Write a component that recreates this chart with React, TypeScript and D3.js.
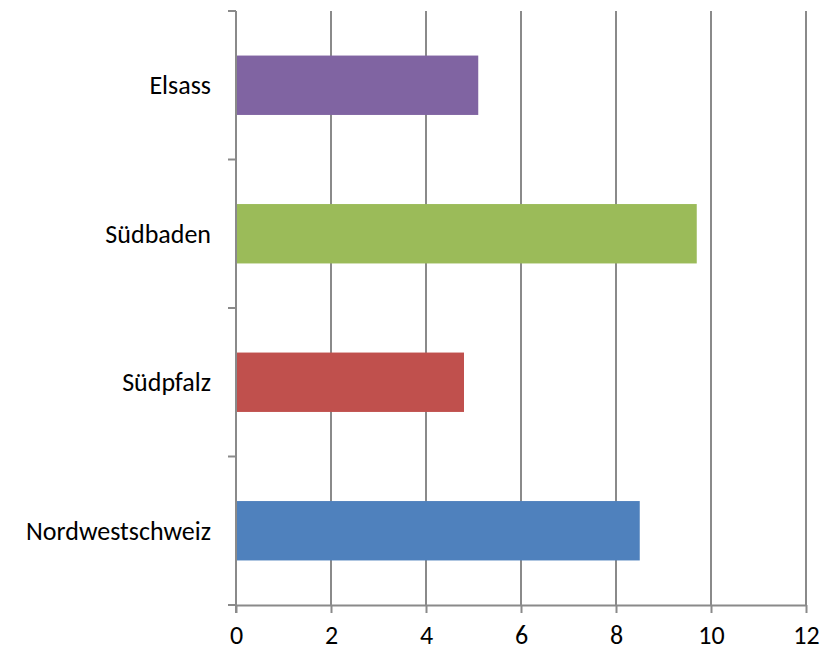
import { useEffect, useRef } from "react";
import * as d3 from "d3";

const regions = ["Elsass", "Südbaden", "Südpfalz", "Nordwestschweiz"];
const values = [5.1, 9.7, 4.8, 8.5];
const colors = ["#8064A2", "#9BBB59", "#C0504D", "#4F81BD"];
const xTicks = [0, 2, 4, 6, 8, 10, 12];

const width = 835;
const height = 651;

export default function App() {
  const svgRef = useRef<SVGSVGElement | null>(null);

  useEffect(() => {
    if (!svgRef.current) {
      return;
    }
    const left = 236;
    const right = 806;
    const top = 11;
    const bottom = 605;
    const gridColor = "#8a8a8a";
    const font = "Carlito, Calibri, 'Open Sans', sans-serif";
    const fontSize = 26;

    const svg = d3.select(svgRef.current);
    svg.selectAll("*").remove();

    const x = d3.scaleLinear().domain([0, 12]).range([left, right]);
    const y = d3
      .scaleBand<string>()
      .domain(regions)
      .range([top, bottom])
      .paddingInner(0.6)
      .paddingOuter(0.3);

    // vertical gridlines
    svg
      .append("g")
      .selectAll("line")
      .data(xTicks.filter((t) => t > 0))
      .join("line")
      .attr("x1", (d) => x(d))
      .attr("x2", (d) => x(d))
      .attr("y1", top)
      .attr("y2", bottom)
      .attr("stroke", gridColor)
      .attr("stroke-width", 2);

    // bars
    svg
      .append("g")
      .selectAll("rect")
      .data(regions)
      .join("rect")
      .attr("x", x(0))
      .attr("y", (d) => y(d) ?? 0)
      .attr("width", (d, i) => x(values[i]) - x(0))
      .attr("height", y.bandwidth())
      .attr("fill", (d, i) => colors[i]);

    // x axis
    const xAxis = svg
      .append("g")
      .attr("transform", `translate(0,${bottom})`)
      .call(d3.axisBottom(x).tickValues(xTicks).tickSize(8).tickSizeOuter(0));
    xAxis.select(".domain").attr("stroke", gridColor).attr("stroke-width", 2);
    xAxis.selectAll(".tick line").attr("stroke", gridColor).attr("stroke-width", 2);
    xAxis
      .selectAll(".tick text")
      .attr("y", 39)
      .attr("dy", "0")
      .attr("font-family", font)
      .attr("font-size", fontSize)
      .attr("fill", "#000");

    // y axis with ticks at category boundaries
    const boundaries = d3.range(regions.length + 1).map((i) => top + i * y.step());
    svg
      .append("line")
      .attr("x1", left)
      .attr("x2", left)
      .attr("y1", top)
      .attr("y2", bottom + 8)
      .attr("stroke", gridColor)
      .attr("stroke-width", 2);
    svg
      .append("g")
      .selectAll("line")
      .data(boundaries)
      .join("line")
      .attr("x1", left - 8)
      .attr("x2", left)
      .attr("y1", (d) => d)
      .attr("y2", (d) => d)
      .attr("stroke", gridColor)
      .attr("stroke-width", 2);

    svg
      .append("g")
      .selectAll("text")
      .data(regions)
      .join("text")
      .attr("x", 211)
      .attr("y", (d) => (y(d) ?? 0) + y.bandwidth() / 2)
      .attr("dy", "0.35em")
      .attr("text-anchor", "end")
      .attr("font-family", font)
      .attr("font-size", fontSize)
      .attr("fill", "#000")
      .text((d) => d);
  }, []);

  return (
    <svg
      ref={svgRef}
      width={width}
      height={height}
      style={{ position: "absolute", left: 0, top: 0, background: "#fff" }}
    />
  );
}
